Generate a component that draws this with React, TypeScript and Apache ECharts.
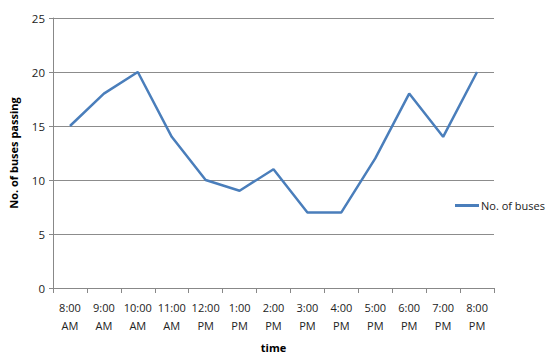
import React, { useEffect, useRef } from "react";
import * as echarts from "echarts";

const categories = [
  "8:00\nAM", "9:00\nAM", "10:00\nAM", "11:00\nAM", "12:00\nPM", "1:00\nPM", "2:00\nPM",
  "3:00\nPM", "4:00\nPM", "5:00\nPM", "6:00\nPM", "7:00\nPM", "8:00\nPM",
];
const buses = [15, 18, 20, 14, 10, 9, 11, 7, 7, 12, 18, 14, 20];
const seriesName = "No. of buses";

export default function App() {
  const ref = useRef<HTMLDivElement>(null);
  useEffect(() => {
    if (!ref.current) return;
    const chart = echarts.init(ref.current, null, { renderer: "svg" });
    const font = "Open Sans, Liberation Sans, sans-serif";
    chart.setOption({
      animation: false,
      backgroundColor: "#ffffff",
      textStyle: { fontFamily: font },
      grid: { left: 53, right: 66, top: 18, bottom: 70, containLabel: false },
      legend: {
        data: [{ name: seriesName, icon: "rect" }],
        left: 450,
        top: 195,
        itemWidth: 24,
        itemHeight: 3,
        itemGap: 2,
        textStyle: { fontSize: 11, color: "#222", fontFamily: font, padding: [0, 0, 0, -3] },
      },
      xAxis: {
        type: "category",
        data: categories,
        boundaryGap: true,
        name: "time",
        nameLocation: "middle",
        nameGap: 54,
        nameTextStyle: { fontWeight: "bold", fontSize: 11, color: "#000", fontFamily: font },
        axisLine: { lineStyle: { color: "#888", width: 1 } },
        axisTick: { show: true, length: 5, lineStyle: { color: "#888" } },
        axisLabel: { fontSize: 11, color: "#222", lineHeight: 18, margin: 10, interval: 0, fontFamily: font },
        splitLine: { show: false },
      },
      yAxis: {
        type: "value",
        min: 0,
        max: 25,
        interval: 5,
        name: "No. of buses passing",
        nameLocation: "middle",
        nameGap: 34,
        nameTextStyle: { fontWeight: "bold", fontSize: 11, color: "#000", fontFamily: font },
        axisLine: { show: true, lineStyle: { color: "#888", width: 1 } },
        axisTick: { show: true, length: 4, inside: false, lineStyle: { color: "#888" } },
        axisLabel: { fontSize: 11.5, color: "#222", margin: 8, fontFamily: font },
        splitLine: { show: true, lineStyle: { color: "#8c8c8c", width: 1 } },
      },
      series: [
        {
          name: seriesName,
          type: "line",
          data: buses,
          symbol: "none",
          lineStyle: { color: "#4a7ebb", width: 2.5 },
          itemStyle: { color: "#4a7ebb" },
        },
      ],
    });
    return () => chart.dispose();
  }, []);
  return <div ref={ref} style={{ width: 560, height: 358, position: "absolute", left: 0, top: 0 }} />;
}
